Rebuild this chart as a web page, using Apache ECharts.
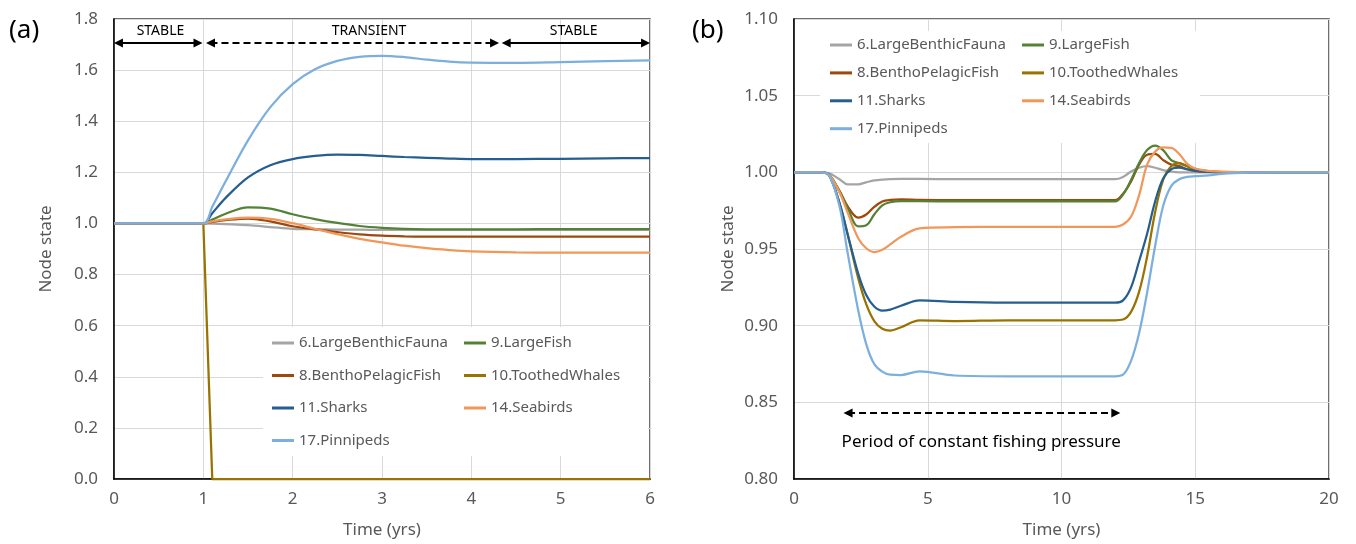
<!DOCTYPE html>
<html>
<head>
<meta charset="utf-8">
<script src="https://cdn.jsdelivr.net/npm/echarts@6/dist/echarts.min.js"></script>
<style>
  html, body { margin: 0; padding: 0; background: #ffffff; }
  #chart { width: 1356px; height: 544px; }
</style>
</head>
<body>
<div id="chart"></div>
<script>
// ---- Series names (node labels) ----
const nameBenthicFauna = '6.LargeBenthicFauna';
const nameBenthoPelagic = '8.BenthoPelagicFish';
const nameLargeFish = '9.LargeFish';
const nameToothedWhales = '10.ToothedWhales';
const nameSharks = '11.Sharks';
const nameSeabirds = '14.Seabirds';
const namePinnipeds = '17.Pinnipeds';

// ---- (a) node state after a step perturbation at t = 1 yr ----
const timeA = [0, 0.5, 1, 1.1, 1.25, 1.5, 1.75, 2, 2.25, 2.5, 2.75, 3, 3.25, 3.5, 3.75, 4, 4.5, 5, 5.5, 6];
const benthicFaunaA = [1, 1, 1, 0.999, 0.997, 0.993, 0.986, 0.979, 0.977, 0.976, 0.9755, 0.975, 0.975, 0.975, 0.975, 0.975, 0.975, 0.975, 0.975, 0.975];
const benthoPelagicA = [1, 1, 1, 1.006, 1.013, 1.019, 1.008, 0.989, 0.977, 0.966, 0.957, 0.952, 0.9495, 0.9485, 0.948, 0.948, 0.948, 0.948, 0.948, 0.948];
const largeFishA = [1, 1, 1, 1.015, 1.038, 1.063, 1.058, 1.036, 1.017, 1.002, 0.99, 0.983, 0.979, 0.977, 0.9765, 0.9765, 0.977, 0.978, 0.978, 0.978];
const toothedWhalesA = [1, 1, 1, 0, 0, 0, 0, 0, 0, 0, 0, 0, 0, 0, 0, 0, 0, 0, 0, 0];
const sharksA = [1, 1, 1, 1.04, 1.1, 1.18, 1.228, 1.252, 1.264, 1.269, 1.268, 1.264, 1.26, 1.257, 1.254, 1.252, 1.252, 1.253, 1.255, 1.256];
const seabirdsA = [1, 1, 1, 1.008, 1.016, 1.023, 1.018, 1.001, 0.979, 0.958, 0.94, 0.926, 0.913, 0.903, 0.896, 0.891, 0.887, 0.886, 0.886, 0.886];
const pinnipedsA = [1, 1, 1, 1.065, 1.165, 1.325, 1.455, 1.545, 1.603, 1.636, 1.652, 1.656, 1.651, 1.641, 1.633, 1.629, 1.628, 1.631, 1.635, 1.638];

// ---- (b) node state under a period of constant fishing pressure ----
const timeB = [0, 1, 1.3, 1.7, 2.0, 2.4, 2.7, 3.0, 3.3, 3.6, 4.0, 4.7, 6, 8, 10, 12, 12.3, 12.6, 12.9, 13.2, 13.5, 13.8, 14.1, 14.4, 14.7, 15, 15.5, 16, 17, 18, 20];
const benthicFaunaB = [1, 1, 0.9995, 0.9955, 0.9922, 0.9922, 0.9935, 0.9947, 0.9953, 0.9956, 0.9957, 0.9957, 0.9955, 0.9955, 0.9955, 0.9955, 0.997, 1.0005, 1.003, 1.004, 1.003, 1.0015, 1.0005, 1.0, 1.0, 1.0, 1.0, 1.0, 1.0, 1.0, 1.0];
const benthoPelagicB = [1, 1, 0.9985, 0.988, 0.978, 0.9705, 0.9725, 0.9775, 0.981, 0.982, 0.9823, 0.982, 0.9818, 0.9818, 0.9818, 0.9818, 0.986, 0.994, 1.005, 1.0115, 1.012, 1.008, 1.005, 1.004, 1.002, 1.001, 1.0004, 1.0, 1.0, 1.0, 1.0];
const largeFishB = [1, 1, 0.9985, 0.9875, 0.977, 0.9648, 0.9655, 0.9725, 0.9785, 0.9805, 0.9812, 0.9812, 0.981, 0.981, 0.981, 0.981, 0.9855, 0.995, 1.006, 1.0145, 1.0175, 1.0145, 1.008, 1.006, 1.004, 1.002, 1.0008, 1.0002, 1.0, 1.0, 1.0];
const toothedWhalesB = [1, 1, 0.9985, 0.98, 0.96, 0.931, 0.914, 0.903, 0.898, 0.8968, 0.899, 0.9035, 0.903, 0.9035, 0.9035, 0.9035, 0.904, 0.909, 0.922, 0.945, 0.974, 0.995, 1.004, 1.006, 1.004, 1.0015, 1.0005, 1.0, 1.0, 1.0, 1.0];
const sharksB = [1, 1, 0.9985, 0.98, 0.96, 0.934, 0.92, 0.9125, 0.9098, 0.9105, 0.913, 0.9165, 0.9155, 0.915, 0.915, 0.915, 0.9165, 0.925, 0.942, 0.96, 0.981, 0.996, 1.002, 1.003, 1.002, 1.001, 1.0003, 1.0, 1.0, 1.0, 1.0];
const seabirdsB = [1, 1, 0.9985, 0.987, 0.974, 0.957, 0.9505, 0.948, 0.9495, 0.953, 0.958, 0.9635, 0.9642, 0.9645, 0.9645, 0.9645, 0.966, 0.971, 0.985, 1.005, 1.0135, 1.0162, 1.016, 1.012, 1.0055, 1.0025, 1.001, 1.0004, 1.0, 1.0, 1.0];
const pinnipedsB = [1, 1, 0.9985, 0.978, 0.948, 0.91, 0.888, 0.875, 0.87, 0.868, 0.8678, 0.8702, 0.8675, 0.867, 0.867, 0.867, 0.868, 0.877, 0.895, 0.9215, 0.952, 0.978, 0.991, 0.9955, 0.997, 0.9975, 0.998, 0.999, 0.9998, 1.0, 1.0];

// ---- Styling ----
const FONT = 'Noto Sans';
const TEXT_GREY = '#595959';
const GRID_LINE = '#D9D9D9';
const colors = {
  [nameBenthicFauna]: '#A5A5A5',
  [nameBenthoPelagic]: '#9E480E',
  [nameLargeFish]: '#548235',
  [nameToothedWhales]: '#997300',
  [nameSharks]: '#255E91',
  [nameSeabirds]: '#F1975A',
  [namePinnipeds]: '#7CAFDD'
};

function toPairs(times, values) {
  return times.map((t, i) => [t, values[i]]);
}

function lineSeries(name, times, values, panel, opts) {
  opts = opts || {};
  return {
    name: name,
    type: 'line',
    xAxisIndex: panel,
    yAxisIndex: panel,
    data: toPairs(times, values),
    symbol: 'none',
    smooth: opts.smooth === false ? false : 0.35,
    clip: opts.clip !== undefined ? opts.clip : true,
    lineStyle: { width: 2.25, color: colors[name] },
    itemStyle: { color: colors[name] },
    emphasis: { disabled: true },
    animation: false
  };
}

function xAxis(panel, max, interval) {
  return {
    gridIndex: panel, type: 'value', min: 0, max: max, interval: interval,
    axisLine: { show: true, onZero: false, lineStyle: { color: '#000', width: 1.5 } },
    axisTick: { show: false },
    splitLine: { show: true, lineStyle: { color: GRID_LINE, width: 1 } },
    axisLabel: { color: TEXT_GREY, fontSize: 17, fontFamily: FONT, margin: 12 },
    name: 'Time (yrs)', nameLocation: 'middle', nameGap: 43,
    nameTextStyle: { color: TEXT_GREY, fontSize: 17, fontFamily: FONT }
  };
}

function yAxis(panel, min, max, interval, digits, gap) {
  return {
    gridIndex: panel, type: 'value', min: min, max: max, interval: interval,
    axisLine: { show: true, onZero: false, lineStyle: { color: '#000', width: 1.5 } },
    axisTick: { show: false },
    splitLine: { show: true, lineStyle: { color: GRID_LINE, width: 1 } },
    axisLabel: { color: TEXT_GREY, fontSize: 17, fontFamily: FONT, margin: 16,
                 formatter: v => v.toFixed(digits) },
    name: 'Node state', nameLocation: 'middle', nameGap: gap,
    nameTextStyle: { color: TEXT_GREY, fontSize: 17, fontFamily: FONT }
  };
}

function legend(left, top, gap, names) {
  return {
    left: left, top: top, orient: 'vertical', padding: 0,
    icon: 'rect', itemWidth: 22, itemHeight: 3, itemGap: gap,
    selectedMode: false, z: 5,
    textStyle: { color: TEXT_GREY, fontSize: 15, fontFamily: FONT, lineHeight: 20 },
    data: names
  };
}

const col1 = [nameBenthicFauna, nameBenthoPelagic, nameSharks, namePinnipeds];
const col2 = [nameLargeFish, nameToothedWhales, nameSeabirds];

const arrowLine = { color: '#000', width: 2, type: 'solid' };
const dashedLine = { color: '#000', width: 2, type: [7, 4] };

const option = {
  animation: false,
  backgroundColor: '#ffffff',
  grid: [
    { left: 114, top: 19, width: 536, height: 461, show: true, borderColor: '#404040', borderWidth: 1.5, backgroundColor: 'transparent' },
    { left: 794, top: 19, width: 535, height: 461, show: true, borderColor: '#404040', borderWidth: 1.5, backgroundColor: 'transparent' }
  ],
  xAxis: [xAxis(0, 6, 1), xAxis(1, 20, 5)],
  yAxis: [yAxis(0, 0, 1.8, 0.2, 1, 59), yAxis(1, 0.8, 1.1, 0.05, 2, 57)],
  legend: [
    legend(272, 333, 12.5, col1),
    legend(464, 333, 12.5, col2),
    legend(830, 35, 7.9, col1),
    legend(1022, 35, 7.9, col2)
  ],
  graphic: [
    { type: 'rect', shape: { x: 263, y: 327, width: 385, height: 129 }, style: { fill: '#ffffff' }, z: 3, silent: true },
    { type: 'rect', shape: { x: 820, y: 31, width: 380, height: 112 }, style: { fill: '#ffffff' }, z: 3, silent: true },
    { type: 'text', x: 9, y: 31, style: { text: '(a)', fill: '#000', font: '26px "Noto Sans"', verticalAlign: 'middle' }, z: 6 },
    { type: 'text', x: 692, y: 31, style: { text: '(b)', fill: '#000', font: '26px "Noto Sans"', verticalAlign: 'middle' }, z: 6 }
  ],
  series: [
    lineSeries(nameBenthicFauna, timeA, benthicFaunaA, 0),
    lineSeries(nameBenthoPelagic, timeA, benthoPelagicA, 0),
    lineSeries(nameLargeFish, timeA, largeFishA, 0),
    lineSeries(nameToothedWhales, timeA, toothedWhalesA, 0, { smooth: false, clip: false }),
    lineSeries(nameSharks, timeA, sharksA, 0),
    lineSeries(nameSeabirds, timeA, seabirdsA, 0),
    lineSeries(namePinnipeds, timeA, pinnipedsA, 0),

    lineSeries(nameBenthicFauna, timeB, benthicFaunaB, 1),
    lineSeries(nameBenthoPelagic, timeB, benthoPelagicB, 1),
    lineSeries(nameLargeFish, timeB, largeFishB, 1),
    lineSeries(nameToothedWhales, timeB, toothedWhalesB, 1),
    lineSeries(nameSharks, timeB, sharksB, 1),
    lineSeries(nameSeabirds, timeB, seabirdsB, 1),
    lineSeries(namePinnipeds, timeB, pinnipedsB, 1),

    // Phase annotations for (a): stable / transient / stable
    {
      type: 'line', xAxisIndex: 0, yAxisIndex: 0, data: [], silent: true,
      markLine: {
        silent: true, animation: false,
        symbol: ['triangle', 'triangle'], symbolSize: [9, 9],
        lineStyle: arrowLine,
        label: { show: false },
        emphasis: { disabled: true },
        data: [
          [{ coord: [0.05, 1.706] }, { coord: [0.94, 1.706] }],
          [{ coord: [1.08, 1.706], lineStyle: dashedLine }, { coord: [4.26, 1.706] }],
          [{ coord: [4.39, 1.706] }, { coord: [5.95, 1.706] }]
        ]
      },
      markPoint: {
        silent: true, animation: false,
        symbol: 'circle', symbolSize: 1,
        itemStyle: { color: 'rgba(0,0,0,0)' },
        label: { show: true, position: 'inside', color: '#000', fontSize: 14, fontFamily: FONT, formatter: '{b}' },
        data: [
          { name: 'STABLE', coord: [0.52, 1.753] },
          { name: 'TRANSIENT', coord: [2.855, 1.753] },
          { name: 'STABLE', coord: [5.145, 1.753] }
        ]
      }
    },
    // Fishing-pressure period annotation for (b)
    {
      type: 'line', xAxisIndex: 1, yAxisIndex: 1, data: [], silent: true,
      markLine: {
        silent: true, animation: false,
        symbol: ['triangle', 'triangle'], symbolSize: [9, 9],
        lineStyle: dashedLine,
        label: { show: false },
        emphasis: { disabled: true },
        data: [
          [{ coord: [2.02, 0.843] }, { coord: [12.03, 0.843] }]
        ]
      },
      markPoint: {
        silent: true, animation: false,
        symbol: 'circle', symbolSize: 1,
        itemStyle: { color: 'rgba(0,0,0,0)' },
        label: { show: true, position: 'inside', color: '#000', fontSize: 17, fontFamily: FONT, formatter: '{b}' },
        data: [
          { name: 'Period of constant fishing pressure', coord: [7.0, 0.824] }
        ]
      }
    }
  ]
};

const chart = echarts.init(document.getElementById('chart'), null, { renderer: 'canvas' });
chart.setOption(option);
</script>
</body>
</html>
